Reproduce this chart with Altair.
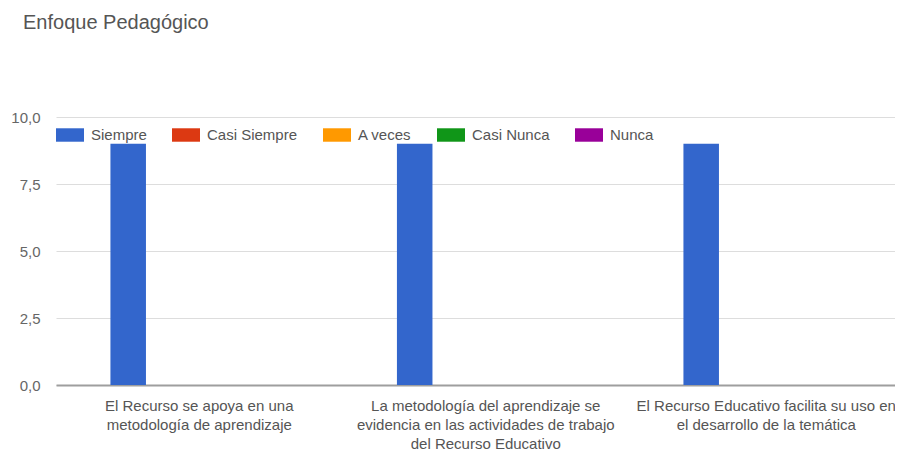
import altair as alt
import pandas as pd

title_text = "Enfoque Pedagógico"
categories = [
    "El Recurso se apoya en una\nmetodología de aprendizaje",
    "La metodología del aprendizaje se\nevidencia en las actividades de trabajo\ndel Recurso Educativo",
    "El Recurso Educativo facilita su uso en\nel desarrollo de la temática",
]
series = ["Siempre", "Casi Siempre", "A veces", "Casi Nunca", "Nunca"]
colors = ["#3366cc", "#dc3912", "#ff9900", "#109618", "#990099"]
values = {
    "Siempre": [9, 9, 9],
    "Casi Siempre": [0, 0, 0],
    "A veces": [0, 0, 0],
    "Casi Nunca": [0, 0, 0],
    "Nunca": [0, 0, 0],
}
y_ticks = [0, 2.5, 5, 7.5, 10]

rows = []
for s in series:
    for c, v in zip(categories, values[s]):
        rows.append({"categoria": c, "serie": s, "valor": v})
df = pd.DataFrame(rows)

FONT = "Arial, Liberation Sans, sans-serif"

chart = (
    alt.Chart(df)
    .mark_bar()
    .encode(
        x=alt.X(
            "categoria:N",
            sort=categories,
            title=None,
            scale=alt.Scale(paddingInner=0.38, paddingOuter=0.19),
            axis=alt.Axis(
                labelAngle=0,
                labelExpr="split(datum.label, '\\n')",
                labelFont=FONT,
                labelFontSize=15,
                labelColor="#555555",
                labelLineHeight=19,
                labelPadding=13,
                labelLimit=400,
                labelBaseline="top",
                labelOffset={"expr": "datum.index >= 1 ? -6 : 0"},
                ticks=False,
                tickSize=0,
                domainColor="#9e9e9e",
                domainWidth=2,
                grid=False,
            ),
        ),
        xOffset=alt.XOffset("serie:N", sort=series, scale=alt.Scale(paddingInner=0, paddingOuter=0)),
        y=alt.Y(
            "valor:Q",
            title=None,
            scale=alt.Scale(domain=[0, 10], nice=False),
            axis=alt.Axis(
                values=y_ticks,
                labelExpr="replace(format(datum.value, '.1f'), '.', ',')",
                labelFont=FONT,
                labelFontSize=15,
                labelColor="#666666",
                labelPadding=16,
                ticks=False,
                tickSize=0,
                domain=False,
                gridColor="#dddddd",
                gridWidth=1,
            ),
        ),
        color=alt.Color(
            "serie:N",
            sort=series,
            scale=alt.Scale(domain=series, range=colors),
            legend=alt.Legend(
                title=None,
                orient="none",
                legendX=0,
                legendY=4,
                direction="horizontal",
                columns=5,
                columnPadding=25,
                symbolType="M-1,-0.48H1V0.48H-1Z",
                symbolSize=784,
                symbolStrokeWidth=0,
                labelFont=FONT,
                labelFontSize=15,
                labelColor="#555555",
                labelOffset=7,
                labelLimit=300,
            ),
        ),
    )
    .properties(
        width=859.5,
        height=268,
        autosize=alt.AutoSizeParams(type="none"),
        padding={"left": 48, "top": 109, "right": -21, "bottom": 66},
        title=alt.TitleParams(
            title_text,
            anchor="start",
            frame="group",
            font=FONT,
            fontSize=20,
            fontWeight="normal",
            color="#555555",
            baseline="alphabetic",
            offset=61,
            dx=-33,
        ),
    )
    .configure_view(stroke=None)
)

chart.save("out.html", embed_options={"renderer": "svg", "actions": False})
